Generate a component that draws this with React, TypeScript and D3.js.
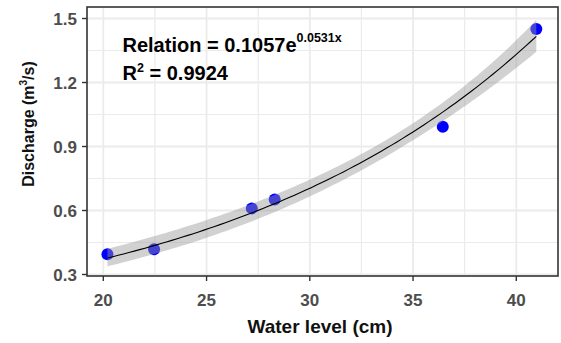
import React from "react";
import * as d3 from "d3";

// Observed rating points: water level (cm) and discharge (m³/s)
const waterLevel = [20.2, 22.46, 27.19, 28.3, 36.44, 40.97];
const discharge = [0.395, 0.418, 0.61, 0.652, 0.993, 1.451];

const xTicks = [20, 25, 30, 35, 40];
const yTicks = [0.3, 0.6, 0.9, 1.2, 1.5];

const relationCoef = "0.1057";
const relationExp = "0.0531x";
const rSquared = "0.9924";

const W = 561;
const H = 343;
const M = { left: 87, right: 558, top: 7, bottom: 276 };

// Exponential fit: gaussian GLM with log link, solved by IRLS.
function fitExpGlm(xs: number[], ys: number[]) {
  const n = xs.length;
  // start from a log-linear least-squares fit
  const lx = d3.mean(xs)!;
  const ly = d3.mean(ys.map(Math.log))!;
  let sxy = 0, sxx = 0;
  xs.forEach((x, i) => { sxy += (x - lx) * (Math.log(ys[i]) - ly); sxx += (x - lx) ** 2; });
  let b1 = sxy / sxx;
  let b0 = ly - b1 * lx;
  let inv = [[0, 0], [0, 0]];
  for (let it = 0; it < 50; it++) {
    let a11 = 0, a12 = 0, a22 = 0, r1 = 0, r2 = 0;
    xs.forEach((x, i) => {
      const eta = b0 + b1 * x;
      const mu = Math.exp(eta);
      const z = eta + (ys[i] - mu) / mu;
      const w = mu * mu;
      a11 += w; a12 += w * x; a22 += w * x * x;
      r1 += w * z; r2 += w * x * z;
    });
    const det = a11 * a22 - a12 * a12;
    inv = [[a22 / det, -a12 / det], [-a12 / det, a11 / det]];
    b0 = inv[0][0] * r1 + inv[0][1] * r2;
    b1 = inv[1][0] * r1 + inv[1][1] * r2;
  }
  let sse = 0;
  xs.forEach((x, i) => { sse += (ys[i] - Math.exp(b0 + b1 * x)) ** 2; });
  const s2 = sse / (n - 2);
  const z = 1.959964;
  const predict = (x: number) => {
    const eta = b0 + b1 * x;
    const se = Math.sqrt(s2 * (inv[0][0] + 2 * x * inv[0][1] + x * x * inv[1][1]));
    return { x, y: Math.exp(eta), lo: Math.exp(eta - z * se), hi: Math.exp(eta + z * se) };
  };
  return predict;
}

export default function App() {
  const x = d3.scaleLinear().domain([19.21, 42.02]).range([M.left, M.right]);
  const y = d3.scaleLinear().domain([0.293, 1.554]).range([M.bottom, M.top]);

  const predict = fitExpGlm(waterLevel, discharge);
  const [x0, x1] = d3.extent(waterLevel) as [number, number];
  const curve = d3.range(0, 81).map((i) => predict(x0 + ((x1 - x0) * i) / 80));

  const line = d3.line<any>().x((d) => x(d.x)).y((d) => y(d.y));
  const band = d3.area<any>().x((d) => x(d.x)).y0((d) => y(d.lo)).y1((d) => y(d.hi));

  const xMinor = xTicks.map((t) => t - 2.5).concat([xTicks[xTicks.length - 1] + 2.5]);
  const yMinor = yTicks.slice(1).map((t) => t - 0.15).concat([yTicks[yTicks.length - 1] + 0.15 > 1.554 ? NaN : 1.65]).filter((v) => !isNaN(v));

  const grid = "#ebebeb";
  const tickText = "#4d4d4d";
  const font = "'Liberation Sans', Arial, sans-serif";

  return (
    <svg width={W} height={H} style={{ position: "absolute", left: 0, top: 0, background: "#fff" }} fontFamily={font}>
      <rect x={M.left} y={M.top} width={M.right - M.left} height={M.bottom - M.top} fill="#fff" />
      {/* grid */}
      {xMinor.filter((v) => x(v) > M.left && x(v) < M.right).map((v) => (
        <line key={"xm" + v} x1={x(v)} x2={x(v)} y1={M.top} y2={M.bottom} stroke={grid} strokeWidth={1.2} />
      ))}
      {yMinor.filter((v) => y(v) > M.top && y(v) < M.bottom).map((v) => (
        <line key={"ym" + v} x1={M.left} x2={M.right} y1={y(v)} y2={y(v)} stroke={grid} strokeWidth={1.2} />
      ))}
      {xTicks.map((v) => (
        <line key={"xg" + v} x1={x(v)} x2={x(v)} y1={M.top} y2={M.bottom} stroke={grid} strokeWidth={1.8} />
      ))}
      {yTicks.map((v) => (
        <line key={"yg" + v} x1={M.left} x2={M.right} y1={y(v)} y2={y(v)} stroke={grid} strokeWidth={1.8} />
      ))}

      {/* observations */}
      {waterLevel.map((w, i) => (
        <circle key={i} cx={x(w)} cy={y(discharge[i])} r={6} fill="#0000ff" />
      ))}

      {/* fitted curve with confidence band */}
      <path d={band(curve) || ""} fill="#999999" fillOpacity={0.45} />
      <path d={line(curve) || ""} fill="none" stroke="#000" strokeWidth={1.1} />

      {/* panel border */}
      <rect x={M.left} y={M.top} width={M.right - M.left} height={M.bottom - M.top} fill="none" stroke="#333" strokeWidth={1.6} />

      {/* axes */}
      {xTicks.map((v) => (
        <g key={"xt" + v}>
          <line x1={x(v)} x2={x(v)} y1={M.bottom} y2={M.bottom + 5} stroke="#333" strokeWidth={1.4} />
          <text x={x(v)} y={306} textAnchor="middle" fontSize={17} fontWeight="bold" fill={tickText}>{v}</text>
        </g>
      ))}
      {yTicks.map((v) => (
        <g key={"yt" + v}>
          <line x1={M.left - 5} x2={M.left} y1={y(v)} y2={y(v)} stroke="#333" strokeWidth={1.4} />
          <text x={77} y={y(v)} dy="0.36em" textAnchor="end" fontSize={17} fontWeight="bold" fill={tickText}>{d3.format(".1f")(v)}</text>
        </g>
      ))}

      <text x={320} y={333} textAnchor="middle" fontSize={19} fontWeight="bold" fill="#111">Water level (cm)</text>
      <text transform="translate(33.5,124) rotate(-90)" textAnchor="middle" fontSize={16} fontWeight="bold" fill="#111">
        Discharge (m<tspan dy={-7} fontSize={10}>3</tspan><tspan dy={7}>/s)</tspan>
      </text>

      {/* fitted relation */}
      <text x={122.5} y={52.3} fontSize={20} fontWeight="bold" fill="#000">
        Relation = {relationCoef}e<tspan dy={-10} fontSize={12.5}>{relationExp}</tspan>
      </text>
      <text x={122.5} y={79.5} fontSize={20} fontWeight="bold" fill="#000">
        R<tspan dy={-8} fontSize={12.5}>2</tspan><tspan dy={8}> = {rSquared}</tspan>
      </text>
    </svg>
  );
}
